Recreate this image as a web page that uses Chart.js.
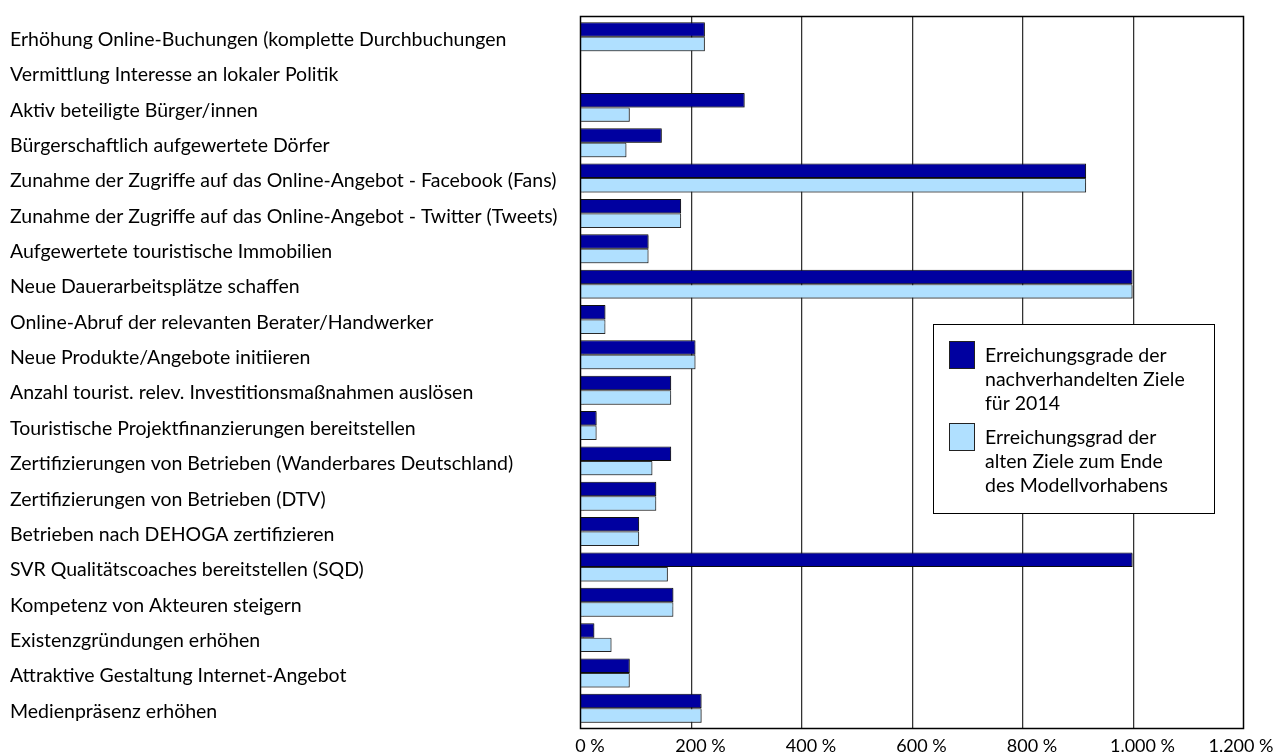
<!DOCTYPE html>
<html>
<head>
<meta charset="utf-8">
<script src="https://cdn.jsdelivr.net/npm/chart.js@4/dist/chart.umd.min.js"></script>
<style>
  html, body { margin: 0; padding: 0; background: #fff; }
  #wrap { width: 1277px; height: 756px; position: relative; }
</style>
</head>
<body>
<div id="wrap"><canvas id="c" width="1277" height="756"></canvas></div>
<script>
const categories = [
  "Erhöhung Online-Buchungen (komplette Durchbuchungen",
  "Vermittlung Interesse an lokaler Politik",
  "Aktiv beteiligte Bürger/innen",
  "Bürgerschaftlich aufgewertete Dörfer",
  "Zunahme der Zugriffe auf das Online-Angebot - Facebook (Fans)",
  "Zunahme der Zugriffe auf das Online-Angebot - Twitter (Tweets)",
  "Aufgewertete touristische Immobilien",
  "Neue Dauerarbeitsplätze schaffen",
  "Online-Abruf der relevanten Berater/Handwerker",
  "Neue Produkte/Angebote initiieren",
  "Anzahl tourist. relev. Investitionsmaßnahmen auslösen",
  "Touristische Projektfinanzierungen bereitstellen",
  "Zertifizierungen von Betrieben (Wanderbares Deutschland)",
  "Zertifizierungen von Betrieben (DTV)",
  "Betrieben nach DEHOGA zertifizieren",
  "SVR Qualitätscoaches bereitstellen (SQD)",
  "Kompetenz von Akteuren steigern",
  "Existenzgründungen erhöhen",
  "Attraktive Gestaltung Internet-Angebot",
  "Medienpräsenz erhöhen"
];
const seriesNew = [226, 0, 298, 148, 916, 183, 124, 1000, 46, 209, 165, 30, 165, 138, 107, 1000, 169, 26, 90, 220];
const seriesOld = [226, 0, 90, 84, 916, 183, 124, 1000, 46, 209, 165, 30, 131, 138, 107, 159, 169, 57, 90, 220];
const seriesLabels = [
  ["Erreichungsgrade der", "nachverhandelten Ziele", "für 2014"],
  ["Erreichungsgrad der", "alten Ziele zum Ende", "des Modellvorhabens"]
];
const xTicks = [0, 200, 400, 600, 800, 1000, 1200];

const FONT = "Lato, 'Open Sans', sans-serif";
const colors = ["#0000A0", "#B0E0FF"];

function fmt(v) {
  return v.toString().replace(/\B(?=(\d{3})+(?!\d))/g, ".") + " %";
}

const frame = {
  id: "frame",
  beforeDatasetsDraw(chart) {
    const {ctx, chartArea: a, scales: {x}} = chart;
    const top = a.top - 3, bottom = a.bottom + 2;
    ctx.save();
    ctx.lineWidth = 1;
    xTicks.forEach(t => {
      if (t === 0 || t === 1200) return;
      const px = Math.round(x.getPixelForValue(t));
      ctx.strokeStyle = "#c8c8c8";
      ctx.beginPath(); ctx.moveTo(px + 1.5, top); ctx.lineTo(px + 1.5, bottom); ctx.stroke();
      ctx.strokeStyle = "#333";
      ctx.beginPath(); ctx.moveTo(px + 0.5, top); ctx.lineTo(px + 0.5, bottom); ctx.stroke();
    });
    ctx.restore();
    // subtle bar shadow
    ctx.save();
    ctx.shadowColor = "rgba(0,0,0,0.35)";
    ctx.shadowOffsetX = 1;
    ctx.shadowOffsetY = 1;
    ctx.shadowBlur = 1;
  },
  afterDatasetsDraw(chart) {
    chart.ctx.restore();
  },
  afterDraw(chart) {
    const {ctx, chartArea: a} = chart;
    const top = a.top - 3, bottom = a.bottom + 2;
    ctx.save();
    ctx.strokeStyle = "#000";
    ctx.lineWidth = 1.5;
    ctx.strokeRect(Math.round(a.left) + 0.5, top + 0.5, Math.round(a.right - a.left), bottom - top);
    // legend
    const lx = 933, ly = 324, lw = 281, lh = 189;
    ctx.fillStyle = "#fff";
    ctx.fillRect(lx, ly, lw, lh);
    ctx.lineWidth = 1;
    ctx.strokeStyle = "#000";
    ctx.strokeRect(lx + 0.5, ly + 0.5, lw, lh);
    ctx.font = "19.5px " + FONT;
    ctx.textBaseline = "middle";
    ctx.textAlign = "left";
    const starts = [341, 423];
    seriesLabels.forEach((lines, i) => {
      const sy = starts[i];
      ctx.fillStyle = colors[i];
      ctx.fillRect(949, sy, 25, 27);
      ctx.strokeStyle = "#222";
      ctx.strokeRect(949.5, sy + 0.5, 25, 27);
      ctx.fillStyle = "#000";
      lines.forEach((ln, j) => ctx.fillText(ln, 985, sy + 15 + j * 24));
    });
    ctx.restore();
  }
};

new Chart(document.getElementById("c"), {
  type: "bar",
  data: {
    labels: categories,
    datasets: [
      { label: seriesLabels[0].join(" "), data: seriesNew, backgroundColor: colors[0], borderColor: "#111", borderWidth: 1, borderSkipped: false },
      { label: seriesLabels[1].join(" "), data: seriesOld, backgroundColor: colors[1], borderColor: "#333", borderWidth: 1, borderSkipped: false }
    ]
  },
  options: {
    indexAxis: "y",
    responsive: false,
    animation: false,
    devicePixelRatio: 1,
    layout: { padding: { left: 10, right: 34, top: 19, bottom: 0 } },
    datasets: { bar: { barPercentage: 1, categoryPercentage: 0.82 } },
    plugins: { legend: { display: false }, tooltip: { enabled: false } },
    scales: {
      x: {
        min: 0, max: 1200,
        afterBuildTicks(s) { s.ticks = xTicks.map(v => ({ value: v })); },
        afterFit(s) { s.height = 30; s.paddingLeft = 0; s.paddingRight = 0; },
        afterUpdate(s) {
          const orig = s._computeLabelItems.bind(s);
          s._computeLabelItems = (ca) => {
            const items = orig(ca);
            items.forEach((it, i) => {
              it.options.translation[0] += (i === items.length - 1) ? -2 : 10;
            });
            return items;
          };
        },
        grid: { display: false, drawTicks: false },
        border: { display: false },
        ticks: { padding: 9, color: "#000", font: { family: FONT, size: 18 }, callback: v => fmt(v), maxRotation: 0, autoSkip: false }
      },
      y: {
        afterFit(s) { s.width = 570; },
        grid: { display: false },
        border: { display: false },
        ticks: { crossAlign: "far", labelOffset: 3, color: "#000", font: { family: FONT, size: 19.5 }, autoSkip: false }
      }
    }
  },
  plugins: [frame]
});
</script>
</body>
</html>
